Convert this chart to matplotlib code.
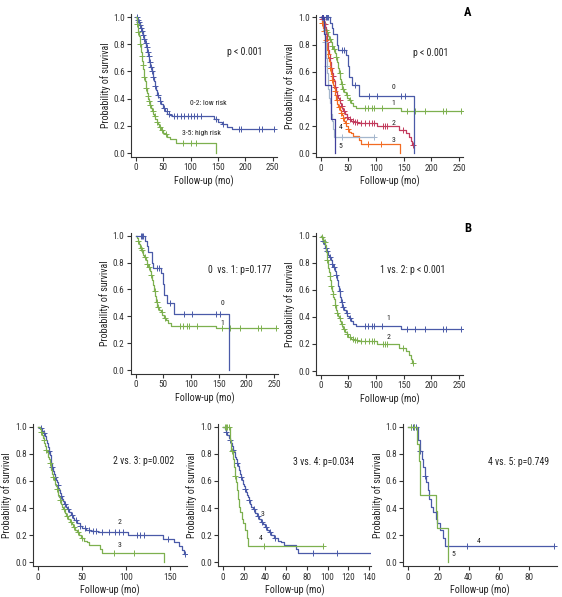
import numpy as np
import matplotlib
matplotlib.use('Agg')
import matplotlib.pyplot as plt

plt.rcParams['font.family'] = ['Liberation Sans Narrow', 'Roboto Condensed', 'Liberation Sans', 'DejaVu Sans']

# Kaplan-Meier curves: event times, survival after event, censor times
g0_t = [17, 20, 22, 30, 32, 46, 49, 52, 56, 70, 168]
g0_s = [0.96, 0.92, 0.88, 0.80, 0.76, 0.72, 0.64, 0.56, 0.50, 0.42, 0.0]
g0_c = [10, 12, 14, 38, 42, 62, 88, 102, 146, 152]

g1_t = [2, 4, 6, 8, 10, 13, 15, 18, 20, 23, 25, 27, 29, 31, 33, 35, 37, 39, 42, 45,
        48, 51, 55, 59, 63, 145]
g1_s = [0.98, 0.96, 0.94, 0.91, 0.89, 0.86, 0.84, 0.82, 0.79, 0.77, 0.74, 0.71, 0.67, 0.63,
        0.59, 0.55, 0.51, 0.47, 0.45, 0.43, 0.41, 0.39, 0.37, 0.35, 0.33, 0.31]
g1_c = [5, 9, 12, 16, 21, 24, 28, 34, 38, 41, 47, 53, 80, 86, 92, 97, 111, 156, 170, 188,
        222, 226, 254]

g2_t = [2, 4, 6, 8, 9, 10, 11, 12, 13, 14, 15, 16, 17, 18, 19, 20, 21, 22, 23, 24, 25, 26,
        27, 28, 29, 31, 33, 35, 37, 39, 41, 44, 47, 50, 54, 60, 68, 102, 142, 155, 160, 164, 166]
g2_s = [0.99, 0.97, 0.95, 0.93, 0.90, 0.88, 0.85, 0.82, 0.79, 0.76, 0.73, 0.70, 0.67, 0.65,
        0.63, 0.61, 0.59, 0.57, 0.55, 0.53, 0.51, 0.49, 0.47, 0.45, 0.43, 0.41, 0.39, 0.37,
        0.35, 0.33, 0.31, 0.29, 0.27, 0.25, 0.24, 0.23, 0.22, 0.20, 0.17, 0.15, 0.12, 0.09, 0.06]
g2_c = [3, 7, 12, 16, 19, 22, 26, 30, 34, 38, 43, 48, 53, 58, 62, 66, 72, 80, 87, 92, 97,
        112, 116, 120, 148, 167]

g3_t = [2, 3, 4, 5, 6, 7, 8, 9, 10, 11, 12, 13, 14, 15, 16, 17, 18, 19, 20, 21, 22, 23, 24,
        25, 26, 27, 28, 30, 32, 34, 36, 38, 40, 42, 44, 46, 49, 52, 55, 58, 70, 72, 143]
g3_s = [0.98, 0.96, 0.94, 0.92, 0.90, 0.88, 0.86, 0.83, 0.81, 0.78, 0.76, 0.73, 0.71, 0.68,
        0.65, 0.63, 0.61, 0.58, 0.56, 0.54, 0.52, 0.50, 0.48, 0.46, 0.43, 0.41, 0.39, 0.36,
        0.34, 0.32, 0.30, 0.28, 0.26, 0.24, 0.22, 0.20, 0.18, 0.16, 0.15, 0.13, 0.10, 0.07, 0.0]
g3_c = [3, 6, 9, 13, 17, 21, 25, 29, 33, 37, 41, 45, 50, 86, 109]

g4_t = [6.5, 7.5, 9, 10, 11, 12, 13, 14, 15, 16, 18, 19, 21, 23, 24]
g4_s = [0.90, 0.82, 0.76, 0.70, 0.64, 0.59, 0.53, 0.47, 0.41, 0.37, 0.32, 0.29, 0.24, 0.18, 0.12]
g4_c = [2, 3, 4, 5, 8, 11, 39, 96]

g5_t = [6, 7, 8, 18, 19, 26]
g5_s = [0.875, 0.75, 0.5, 0.375, 0.25, 0.0]
g5_c = [2, 4]

lo_t = [3, 5, 7, 9, 11, 13, 15, 17, 19, 21, 23, 25, 27, 29, 31, 33, 35, 37, 39, 41,
        44, 47, 50, 54, 58, 62, 66, 142, 150, 157, 166, 175]
lo_s = [0.98, 0.96, 0.94, 0.92, 0.90, 0.87, 0.84, 0.81, 0.78, 0.74, 0.71, 0.67, 0.63, 0.60,
        0.56, 0.53, 0.49, 0.46, 0.43, 0.41, 0.38, 0.36, 0.33, 0.31, 0.29, 0.28, 0.27,
        0.25, 0.23, 0.21, 0.19, 0.18]
lo_c = [2, 4, 6, 8, 10, 12, 14, 16, 18, 20, 22, 24, 26, 28, 30, 32, 36, 40, 45, 52, 57, 60,
        70, 76, 82, 88, 95, 100, 107, 112, 120, 146, 160, 188, 193, 225, 230, 252]

hi_t = [2, 3, 4, 5, 6, 7, 8, 9, 10, 11, 12, 13, 14, 15, 16, 17, 18, 19, 20, 21, 22, 23, 24,
        26, 28, 30, 32, 34, 36, 38, 40, 43, 46, 50, 54, 58, 63, 73, 146]
hi_s = [0.98, 0.95, 0.92, 0.89, 0.86, 0.83, 0.80, 0.77, 0.74, 0.71, 0.68, 0.65, 0.62, 0.59,
        0.56, 0.53, 0.50, 0.48, 0.46, 0.44, 0.42, 0.40, 0.38, 0.35, 0.33, 0.31, 0.29, 0.27,
        0.25, 0.23, 0.21, 0.19, 0.17, 0.15, 0.14, 0.12, 0.10, 0.07, 0.0]
hi_c = [3, 5, 8, 11, 13, 16, 19, 22, 25, 27, 31, 35, 39, 44, 48, 55, 86, 100, 110]

BLUE = '#4a5aa8'
GREEN = '#7db04f'
RED = '#c23a5c'
ORANGE = '#f26b22'
LIGHT = '#a4b6cc'
DARK = '#40409c'

W, H = 562, 597
fig = plt.figure(figsize=(W / 100, H / 100), dpi=100)


def make_ax(x0, sx, y0, sy, xlim, xticks, ylim=(-0.03, 1.02)):
    # place axes so that data units land on the same pixels as the reference
    left = x0 + sx * xlim[0]
    right = x0 + sx * xlim[1]
    top = y0 - sy * ylim[1]
    bottom = y0 - sy * ylim[0]
    ax = fig.add_axes([left / W, 1 - bottom / H, (right - left) / W, (bottom - top) / H])
    ax.set_xlim(xlim)
    ax.set_ylim(ylim)
    ax.set_xticks(xticks)
    ax.set_yticks([0, 0.2, 0.4, 0.6, 0.8, 1.0])
    ax.set_yticklabels(['0.0', '0.2', '0.4', '0.6', '0.8', '1.0'])
    for s in ['top', 'right']:
        ax.spines[s].set_visible(False)
    for s in ['left', 'bottom']:
        ax.spines[s].set_color('#333333')
        ax.spines[s].set_linewidth(0.8)
    ax.tick_params(length=3, width=0.8, color='#333333', labelsize=6.7,
                   labelcolor='#333333', pad=1.5)
    ax.set_xlabel('Follow-up (mo)', fontsize=7.2, color='#222222', labelpad=2)
    ax.set_ylabel('Probability of survival', fontsize=7.2, color='#222222', labelpad=2)
    return ax


def km(ax, t, s, c, color):
    t = np.asarray(t, float)
    s = np.asarray(s, float)
    c = np.asarray(c, float)
    end = max(t[-1], c.max() if len(c) else 0)
    xs = np.r_[0, t, end]
    ys = np.r_[1.0, s, s[-1]]
    ax.step(xs, ys, where='post', color=color, lw=0.9)
    idx = np.searchsorted(t, c, side='right')
    cy = np.where(idx == 0, 1.0, s[np.maximum(idx - 1, 0)])
    ax.plot(c, cy, ls='none', marker='+', ms=4, mew=0.7, color=color)


def lab(ax, x, y, txt, size=5.6):
    ax.text(x, y, txt, fontsize=size, color='#222222', ha='center', va='center')


ticks250 = [0, 50, 100, 150, 200, 250]

# A1
ax = make_ax(135.7, 0.548, 153, 136, (-8, 258), ticks250)
km(ax, lo_t, lo_s, lo_c, BLUE)
km(ax, hi_t, hi_s, hi_c, GREEN)
lab(ax, 198, 0.74, 'p < 0.001', 7)
lab(ax, 133, 0.37, '0-2: low risk')
lab(ax, 120, 0.15, '3-5: high risk')

# A2
ax = make_ax(320.7, 0.553, 153.3, 136, (-8, 258), ticks250)
km(ax, g1_t, g1_s, g1_c, GREEN)
km(ax, g2_t, g2_s, g2_c, RED)
km(ax, g3_t, g3_s, g3_c, ORANGE)
km(ax, g4_t, g4_s, g4_c, LIGHT)
km(ax, g0_t, g0_s, g0_c, BLUE)
km(ax, g5_t, g5_s, g5_c, DARK)
lab(ax, 198, 0.74, 'p < 0.001', 7)
lab(ax, 131, 0.485, '0')
lab(ax, 131, 0.37, '1')
lab(ax, 131, 0.225, '2')
lab(ax, 131, 0.098, '3')
lab(ax, 36, 0.19, '4')
lab(ax, 35, 0.056, '5')
fig.text(468 / W, 1 - 12 / H, 'A', fontsize=9, fontweight='bold', ha='center', va='center')

# B1
ax = make_ax(135.7, 0.553, 370, 134.3, (-9, 258), ticks250)
km(ax, g1_t, g1_s, g1_c, GREEN)
km(ax, g0_t, g0_s, g0_c, BLUE)
lab(ax, 189, 0.745, '0  vs. 1: p=0.177', 7)
lab(ax, 157, 0.50, '0')
lab(ax, 157, 0.35, '1')

# B2
ax = make_ax(320.7, 0.553, 371, 135.3, (-8, 258), ticks250)
km(ax, g1_t, g1_s, g1_c, BLUE)
km(ax, g2_t, g2_s, g2_c, GREEN)
lab(ax, 167, 0.745, '1 vs. 2: p < 0.001', 7)
lab(ax, 123, 0.39, '1')
lab(ax, 123, 0.25, '2')
fig.text(468 / W, 1 - 228 / H, 'B', fontsize=9, fontweight='bold', ha='center', va='center')

# C1
ax = make_ax(38.3, 0.878, 562.3, 135.6, (-6, 169), [0, 50, 100, 150])
km(ax, g2_t, g2_s, g2_c, BLUE)
km(ax, g3_t, g3_s, g3_c, GREEN)
lab(ax, 120, 0.75, '2 vs. 3: p=0.002', 7)
lab(ax, 92, 0.30, '2')
lab(ax, 92, 0.125, '3')

# C2
ax = make_ax(223.3, 1.043, 562.3, 135.6, (-5, 142), [0, 20, 40, 60, 80, 100, 120, 140])
km(ax, g3_t, g3_s, g3_c, BLUE)
km(ax, g4_t, g4_s, g4_c, GREEN)
lab(ax, 96, 0.74, '3 vs. 4: p=0.034', 7)
lab(ax, 38, 0.356, '3')
lab(ax, 36, 0.177, '4')

# C3
ax = make_ax(408.3, 1.5125, 562.3, 135.6, (-3.3, 98), [0, 20, 40, 60, 80])
km(ax, g4_t, g4_s, g4_c, BLUE)
km(ax, g5_t, g5_s, g5_c, GREEN)
lab(ax, 72.7, 0.74, '4 vs. 5: p=0.749', 7)
lab(ax, 46.7, 0.16, '4')
lab(ax, 29.8, 0.06, '5')

fig.savefig('out.png', dpi=100)
